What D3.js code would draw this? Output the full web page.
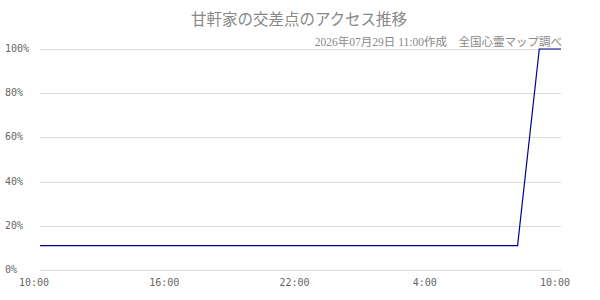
<!DOCTYPE html>
<html>
<head>
<meta charset="utf-8">
<script src="https://cdn.jsdelivr.net/npm/d3@7"></script>
<style>
  body { margin: 0; background: #fff; }
  .grid line { stroke: #dcdcdc; stroke-width: 1; }
  .tick-label { font-family: "DejaVu Sans Mono", monospace; font-size: 10px; fill: #666; }
</style>
</head>
<body>
<svg id="chart" width="600" height="300"></svg>
<script>
  // hourly samples, 10:00 -> 10:00 next day
  var hours = [10, 11, 12, 13, 14, 15, 16, 17, 18, 19, 20, 21, 22, 23,
               0, 1, 2, 3, 4, 5, 6, 7, 8, 9, 10];
  var access = [11, 11, 11, 11, 11, 11, 11, 11, 11, 11, 11, 11, 11, 11,
                11, 11, 11, 11, 11, 11, 11, 11, 11, 100, 100];
  var yTicks = [0, 20, 40, 60, 80, 100];
  var xTickIdx = [0, 6, 12, 18, 24];
  var title = "甘軒家の交差点のアクセス推移";
  var subtitle = "2026年07月29日 11:00作成　全国心霊マップ調べ";

  var svg = d3.select("#chart");

  var x = d3.scaleLinear().domain([0, hours.length - 1]).range([40, 561]);
  var y = d3.scaleLinear().domain([0, 100]).range([270, 49]);

  // grid
  var grid = svg.append("g").attr("class", "grid");
  grid.selectAll("line")
    .data(yTicks)
    .enter()
    .append("line")
    .attr("x1", x(0))
    .attr("x2", x(hours.length - 1))
    .attr("y1", d => Math.round(y(d)) + 0.5)
    .attr("y2", d => Math.round(y(d)) + 0.5);

  // y labels
  svg.append("g").selectAll("text")
    .data(yTicks)
    .enter()
    .append("text")
    .attr("class", "tick-label")
    .attr("x", 5)
    .attr("y", d => y(d) + 3)
    .text(d => d + "%");

  // x labels
  svg.append("g").selectAll("text")
    .data(xTickIdx)
    .enter()
    .append("text")
    .attr("class", "tick-label")
    .attr("text-anchor", "middle")
    .attr("x", d => x(d) - 6)
    .attr("y", 286)
    .text(d => hours[d] + ":00");

  // line
  var line = d3.line()
    .x((d, i) => x(i))
    .y(d => y(d));

  svg.append("path")
    .datum(access)
    .attr("d", line)
    .attr("fill", "none")
    .attr("stroke", "#000090")
    .attr("stroke-width", 1.2);

  // titles
  svg.append("text")
    .attr("x", 299)
    .attr("y", 25)
    .attr("text-anchor", "middle")
    .attr("font-family", "'Noto Sans CJK JP', sans-serif")
    .attr("font-size", 15.5)
    .attr("fill", "#888")
    .text(title);

  svg.append("text")
    .attr("x", 562)
    .attr("y", 46)
    .attr("text-anchor", "end")
    .attr("font-family", "'Liberation Serif', 'Noto Sans CJK JP', serif")
    .attr("font-size", 11.5)
    .attr("fill", "#888")
    .text(subtitle);
</script>
</body>
</html>
